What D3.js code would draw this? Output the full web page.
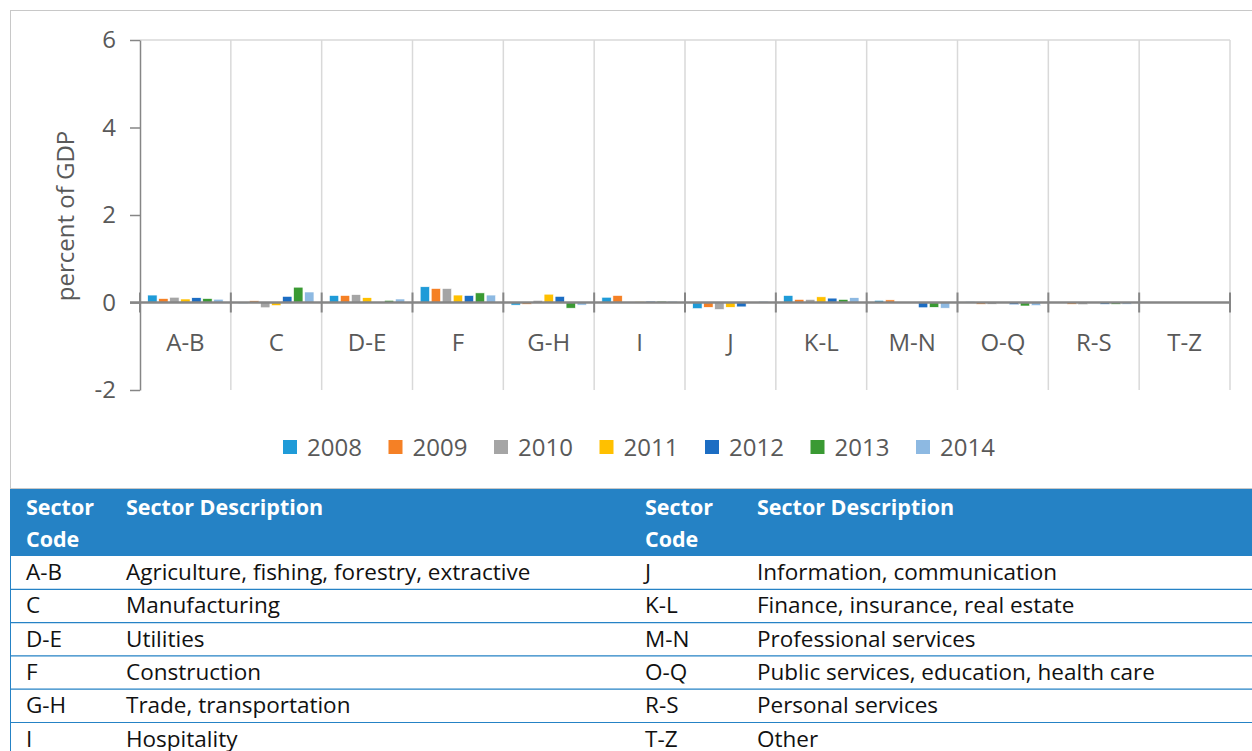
<!DOCTYPE html>
<html>
<head>
<meta charset="utf-8">
<script src="https://cdn.jsdelivr.net/npm/d3@7"></script>
<style>
  body { margin: 0; background: #fff; }
  svg { display: block; font-family: "Open Sans", "Noto Sans", sans-serif; }
</style>
</head>
<body>
<div class="chart"></div>
<script>
// sectors on the x axis
const sectors = ["A-B", "C", "D-E", "F", "G-H", "I", "J", "K-L", "M-N", "O-Q", "R-S", "T-Z"];
const years = ["2008", "2009", "2010", "2011", "2012", "2013", "2014"];
const yTicks = [-2, 0, 2, 4, 6];

// percent of GDP by sector, one array per year
const v2008 = [0.17, -0.02, 0.16, 0.36, -0.06, 0.12, -0.14, 0.16, 0.05, 0.02, 0.00, 0];
const v2009 = [0.09, 0.04, 0.16, 0.32, -0.04, 0.16, -0.11, 0.07, 0.06, -0.04, -0.04, 0];
const v2010 = [0.12, -0.12, 0.18, 0.32, 0.05, 0.01, -0.16, 0.07, 0.00, -0.04, -0.05, 0];
const v2011 = [0.08, -0.07, 0.11, 0.17, 0.19, 0.02, -0.11, 0.13, 0.00, 0.00, 0.00, 0];
const v2012 = [0.11, 0.14, 0.01, 0.16, 0.14, 0.03, -0.10, 0.10, -0.12, -0.05, -0.04, 0];
const v2013 = [0.09, 0.35, 0.05, 0.22, -0.13, 0.03, -0.01, 0.07, -0.11, -0.08, -0.04, 0];
const v2014 = [0.075, 0.24, 0.08, 0.17, -0.06, 0.03, 0.03, 0.11, -0.13, -0.07, -0.04, 0];
const series = [v2008, v2009, v2010, v2011, v2012, v2013, v2014];
const colors = ["#1f9bd8", "#f58025", "#a5a5a5", "#ffc000", "#1c6dc3", "#3a9a33", "#8db9e2"];

// sector description table (two halves)
const codesLeft = ["A-B", "C", "D-E", "F", "G-H", "I"];
const descLeft = ["Agriculture, fishing, forestry, extractive", "Manufacturing", "Utilities",
  "Construction", "Trade, transportation", "Hospitality"];
const codesRight = ["J", "K-L", "M-N", "O-Q", "R-S", "T-Z"];
const descRight = ["Information, communication", "Finance, insurance, real estate",
  "Professional services", "Public services, education, health care", "Personal services", "Other"];

const W = 1252, H = 751;
const plot = { left: 140, right: 1230, top: 40, bottom: 390 };
const axisFont = 24;

const svg = d3.select(".chart").append("svg")
  .attr("width", W).attr("height", H);

// outer chart frame
svg.append("rect")
  .attr("x", 10.5).attr("y", 10.5)
  .attr("width", W).attr("height", 478)
  .attr("fill", "none").attr("stroke", "#c8c8c8");

const x = d3.scaleBand().domain(sectors).range([plot.left, plot.right]).padding(0);
const xi = d3.scaleBand().domain(years).range([0, x.bandwidth()])
  .paddingInner(0.15).paddingOuter(0.7);
const y = d3.scaleLinear().domain([-2, 6]).range([plot.bottom, plot.top]);

// vertical gridlines at category boundaries
svg.append("g")
  .selectAll("line")
  .data(d3.range(1, sectors.length + 1))
  .join("line")
  .attr("x1", i => plot.left + i * x.bandwidth())
  .attr("x2", i => plot.left + i * x.bandwidth())
  .attr("y1", plot.top).attr("y2", plot.bottom)
  .attr("stroke", "#d9d9d9").attr("stroke-width", 1.5);

// top gridline
svg.append("line")
  .attr("x1", plot.left).attr("x2", plot.right)
  .attr("y1", y(6)).attr("y2", y(6))
  .attr("stroke", "#d9d9d9").attr("stroke-width", 1.5);

// Y axis
const yAxis = svg.append("g")
  .attr("transform", `translate(${plot.left},0)`)
  .call(d3.axisLeft(y).tickValues(yTicks).tickFormat(d => String(d))
    .tickSize(10).tickPadding(14).tickSizeOuter(0));
yAxis.select(".domain").attr("stroke", "#868686").attr("stroke-width", 1.5);
yAxis.selectAll(".tick line").attr("stroke", "#868686").attr("stroke-width", 1.5);
yAxis.selectAll(".tick text")
  .attr("fill", "#595959").attr("font-size", axisFont)
  .attr("font-family", "Open Sans, Noto Sans, sans-serif");

svg.append("text")
  .attr("transform", `translate(74,${(plot.top + plot.bottom) / 2 + 1}) rotate(-90)`)
  .attr("text-anchor", "middle")
  .attr("fill", "#595959").attr("font-size", axisFont)
  .text("percent of GDP");

// bars
years.forEach((yr, k) => {
  svg.append("g")
    .selectAll("rect")
    .data(series[k])
    .join("rect")
    .attr("x", (d, i) => x(sectors[i]) + xi(yr))
    .attr("y", d => y(Math.max(0, d)))
    .attr("width", xi.bandwidth())
    .attr("height", d => Math.abs(y(d) - y(0)))
    .attr("fill", colors[k])
    .attr("stroke", "#fff").attr("stroke-width", 0.6);
});

// zero axis with boundary ticks
svg.append("line")
  .attr("x1", plot.left - 10).attr("x2", plot.right)
  .attr("y1", y(0)).attr("y2", y(0))
  .attr("stroke", "#868686").attr("stroke-width", 2.5);
svg.append("g")
  .selectAll("line")
  .data(d3.range(sectors.length + 1))
  .join("line")
  .attr("x1", i => plot.left + i * x.bandwidth())
  .attr("x2", i => plot.left + i * x.bandwidth())
  .attr("y1", y(0) - 10).attr("y2", y(0) + 10)
  .attr("stroke", "#868686").attr("stroke-width", 2);

// category labels
svg.append("g")
  .selectAll("text")
  .data(sectors)
  .join("text")
  .attr("x", d => x(d) + x.bandwidth() / 2)
  .attr("y", 351)
  .attr("text-anchor", "middle")
  .attr("fill", "#595959").attr("font-size", axisFont)
  .text(d => d);

// legend
const legend = svg.append("g")
  .selectAll("g")
  .data(years)
  .join("g")
  .attr("transform", (d, i) => `translate(${283 + i * 105.5},440)`);
legend.append("rect")
  .attr("width", 14).attr("height", 14)
  .attr("fill", (d, i) => colors[i]);
legend.append("text")
  .attr("x", 24).attr("y", 16)
  .attr("fill", "#595959").attr("font-size", axisFont)
  .text(d => d);

// table
const tbl = { top: 489, head: 67, row: 33.3, left: 10 };
const cols = [26, 126, 645, 757];
const tblFont = 22.5;
svg.append("rect")
  .attr("x", tbl.left).attr("y", tbl.top)
  .attr("width", W - tbl.left).attr("height", tbl.head)
  .attr("fill", "#2582c5");

const headers = [["Sector", "Code"], ["Sector Description"], ["Sector", "Code"], ["Sector Description"]];
headers.forEach((lines, c) => {
  lines.forEach((t, j) => {
    svg.append("text")
      .attr("x", cols[c]).attr("y", tbl.top + 26 + j * 32)
      .attr("fill", "#fff").attr("font-size", 21.5).attr("font-weight", "bold")
      .text(t);
  });
});

const rows = codesLeft.map((c, i) => [c, descLeft[i], codesRight[i], descRight[i]]);
const rowG = svg.append("g")
  .selectAll("g")
  .data(rows)
  .join("g")
  .attr("transform", (d, i) => `translate(0,${tbl.top + tbl.head + i * tbl.row})`);
rowG.append("line")
  .attr("x1", tbl.left).attr("x2", W)
  .attr("y1", tbl.row).attr("y2", tbl.row)
  .attr("stroke", "#2582c5").attr("stroke-width", 1.2);
rowG.selectAll("text")
  .data(d => d)
  .join("text")
  .attr("x", (d, i) => cols[i])
  .attr("y", 24)
  .attr("fill", "#111").attr("font-size", tblFont)
  .text(d => d);

// table left edge
svg.append("line")
  .attr("x1", tbl.left + 0.5).attr("x2", tbl.left + 0.5)
  .attr("y1", tbl.top).attr("y2", H)
  .attr("stroke", "#2582c5").attr("stroke-width", 1);
</script>
</body>
</html>
